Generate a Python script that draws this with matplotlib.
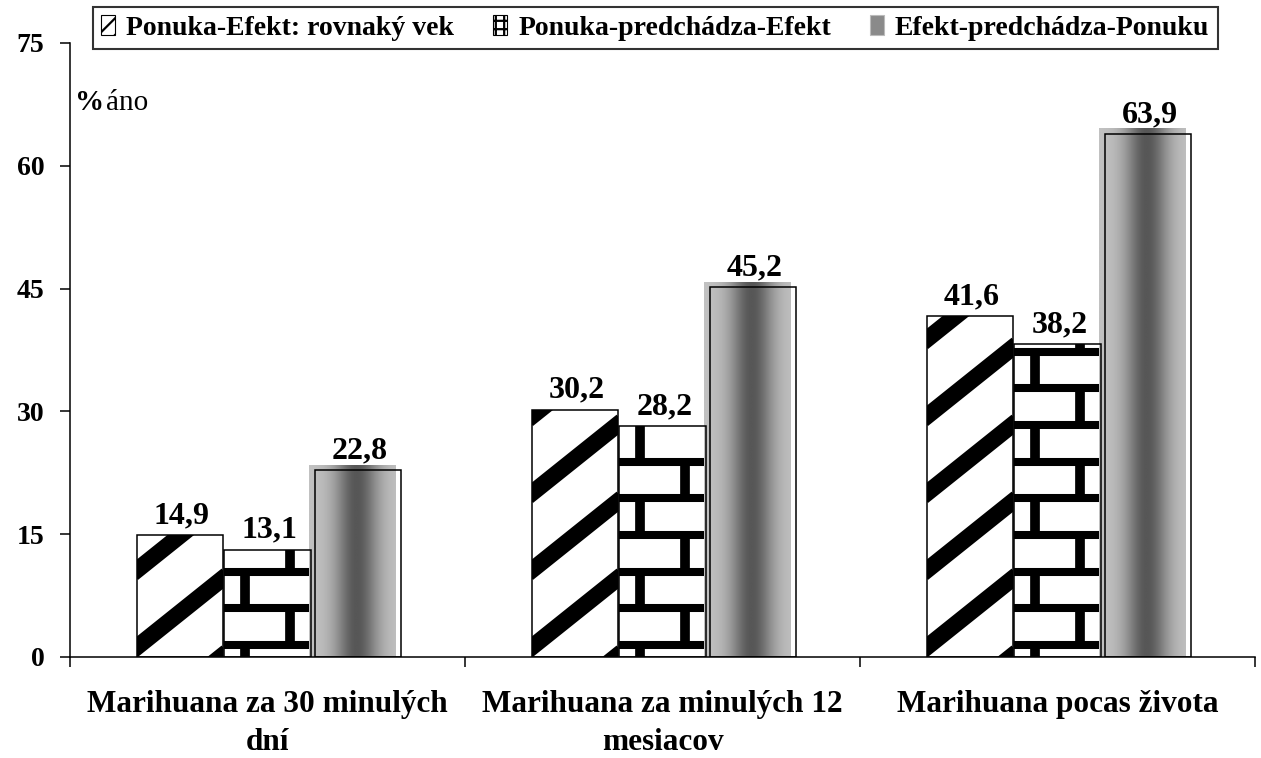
import numpy as np
import matplotlib
matplotlib.use("Agg")
import matplotlib.pyplot as plt
from matplotlib.patches import Rectangle, Patch
from matplotlib.lines import Line2D

# ---------------- data ----------------
categories = ["Marihuana za 30 minulých\ndní",
              "Marihuana za minulých 12\nmesiacov",
              "Marihuana pocas života"]
series_names = ["Ponuka-Efekt: rovnaký vek",
                "Ponuka-predchádza-Efekt",
                "Efekt-predchádza-Ponuku"]
same_age = [14.9, 30.2, 41.6]
offer_first = [13.1, 28.2, 38.2]
effect_first = [22.8, 45.2, 63.9]
value_labels = [["14,9", "30,2", "41,6"],
                ["13,1", "28,2", "38,2"],
                ["22,8", "45,2", "63,9"]]
yticks = [0, 15, 30, 45, 60, 75]
ylabel_text = "áno"

# ---------------- style ----------------
SERIF = ["Liberation Serif", "DejaVu Serif"]
plt.rcParams["font.family"] = SERIF
plt.rcParams["hatch.linewidth"] = 1.6

W, H = 1261, 758
fig = plt.figure(figsize=(W / 100, H / 100), dpi=100)
ax_l, ax_r, ax_t, ax_b = 70, 1255, 43, 657
ax = fig.add_axes([ax_l / W, 1 - ax_b / H, (ax_r - ax_l) / W, (ax_b - ax_t) / H])
ax.set_xlim(-0.5, 2.5)
ax.set_ylim(0, 75)
px_x = (ax_r - ax_l) / 3.0
px_y = (ax_b - ax_t) / 75.0

x = np.arange(len(categories))
offsets = [-0.222, 0.0, 0.228]
width = 0.218
series = [same_age, offer_first, effect_first]

# white backgrounds
for s, off in zip(series, offsets):
    ax.bar(x + off, s, width, color="white", edgecolor="none", zorder=1)

# ---- series 1: thick diagonal stripes ----
slope = 0.8 * px_x / px_y       # data-y per data-x
period = 9.4
phase = 1.2
for xi, v in zip(x, same_age):
    left = xi + offsets[0] - width / 2
    clip = Rectangle((left, 0), width, v, transform=ax.transData)
    xs = np.array([left - 0.01, left + width + 0.01])
    k = -3
    while phase + k * period < v + 5:
        base = phase + k * period
        ln = Line2D(xs, base + slope * (xs - left), color="black", lw=12,
                    solid_capstyle="butt", zorder=2)
        ax.add_line(ln)
        ln.set_clip_path(clip)
        k += 1

# ---- series 2: bricks ----
h0, hstep = 1.47, 4.48
offA, offB = 21 / px_x, 66 / px_x
for xi, v in zip(x, offer_first):
    left = xi + offsets[1] - width / 2
    clip = Rectangle((left, 0), width, v, transform=ax.transData)
    k = 0
    while h0 + k * hstep < v:
        yy = h0 + k * hstep
        ln = Line2D([left, left + width], [yy, yy], color="black", lw=5.8,
                    solid_capstyle="butt", zorder=2)
        ax.add_line(ln)
        ln.set_clip_path(clip)
        k += 1
    r = 0
    while True:
        y_lo = 0 if r == 0 else h0 + (r - 1) * hstep
        if y_lo >= v:
            break
        y_hi = min(h0 + r * hstep, v + 2)
        xx = left + (offA if r % 2 == 0 else offB)
        ln = Line2D([xx, xx], [y_lo, y_hi], color="black", lw=7,
                    solid_capstyle="butt", zorder=2)
        ax.add_line(ln)
        ln.set_clip_path(clip)
        r += 1

# ---- series 3: grey cylinder gradient ----
t = np.linspace(0, 1, 200)
grad = 0.76 - 0.42 * np.exp(-((t - 0.55) / 0.25) ** 2)
grad = np.tile(grad, (2, 1))
shift = 6 / px_x
for xi, v in zip(x, effect_first):
    left = xi + offsets[2] - width / 2 - shift
    top = v + 0.6
    ax.imshow(grad, cmap="gray", vmin=0, vmax=1, aspect="auto",
              extent=[left, left + width, 0, top], interpolation="bilinear",
              zorder=2)

# outlines
for s, off in zip(series, offsets):
    ax.bar(x + off, s, width, facecolor="none", edgecolor="black", lw=1.1,
           zorder=3)

ax.set_xlim(-0.5, 2.5)
ax.set_ylim(0, 75)

# value labels
for s, off, labs in zip(series, offsets, value_labels):
    for xi, v, lab in zip(x, s, labs):
        ax.text(xi + off + 0.005, v + 0.6, lab, ha="center", va="bottom",
                fontsize=23, fontweight="bold", zorder=5)

# axes styling
for sp in ["top", "right"]:
    ax.spines[sp].set_visible(False)
ax.spines["left"].set_linewidth(1.1)
ax.spines["bottom"].set_linewidth(1.1)
ax.set_yticks(yticks)
ax.set_yticklabels([str(v) for v in yticks], fontsize=20, fontweight="bold")
ax.tick_params(axis="y", direction="out", length=7.5, width=1.1, pad=11)
ax.set_xticks([-0.5, 0.5, 1.5, 2.5])
ax.set_xticklabels([])
ax.tick_params(axis="x", direction="out", length=7.5, width=1.1)
for xi, cat in zip(x, categories):
    ax.text(xi, -0.053, cat, transform=ax.get_xaxis_transform(), ha="center",
            va="top", fontsize=22.5, fontweight="bold", linespacing=1.45)

# "%áno"
fig.text(75 / W, 1 - 103 / H, "%", fontsize=21, fontweight="bold", va="center")
fig.text(106 / W, 1 - 103 / H, ylabel_text, fontsize=21, va="center")

# legend
handles = [Patch(facecolor="white", edgecolor="black", hatch="//", lw=0.8),
           Patch(facecolor="white", edgecolor="black", hatch="++", lw=0.8),
           Patch(facecolor="#8a8a8a", edgecolor="#bbbbbb", lw=0.8)]
leg = fig.legend(handles, series_names, loc="upper left",
                 bbox_to_anchor=(93 / W, 1 - 7 / H), ncol=3, frameon=True,
                 fancybox=False, shadow=False, edgecolor="black",
                 prop={"family": SERIF, "weight": "bold", "size": 20},
                 handlelength=0.5, handleheight=0.7, handletextpad=0.4,
                 columnspacing=1.4, borderpad=0.3, borderaxespad=0)
leg.get_frame().set_linewidth(1.5)

fig.savefig("out.png", dpi=100)
